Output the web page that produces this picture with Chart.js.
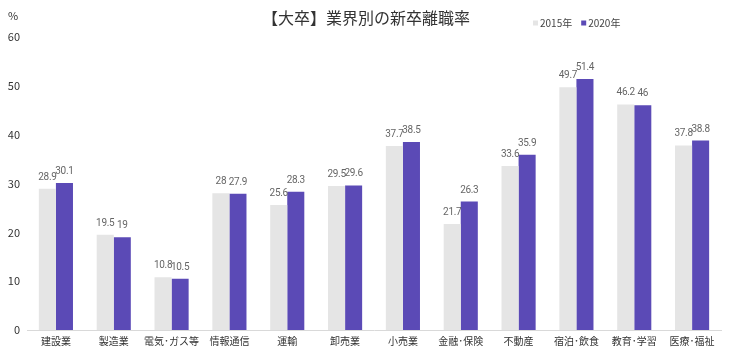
<!DOCTYPE html>
<html>
<head>
<meta charset="utf-8">
<script src="https://cdn.jsdelivr.net/npm/chart.js@4/dist/chart.umd.min.js"></script>
<style>
html,body{margin:0;padding:0;background:#fff;}
#wrap{width:730px;height:353px;position:relative;}
</style>
</head>
<body>
<div id="wrap"><canvas id="c" width="730" height="353"></canvas></div>
<script>
const categories = ["建設業","製造業","電気･ガス等","情報通信","運輸","卸売業","小売業","金融･保険","不動産","宿泊･飲食","教育･学習","医療･福祉"];
const series2015 = [28.9, 19.5, 10.8, 28, 25.6, 29.5, 37.7, 21.7, 33.6, 49.7, 46.2, 37.8];
const series2020 = [30.1, 19, 10.5, 27.9, 28.3, 29.6, 38.5, 26.3, 35.9, 51.4, 46, 38.8];
const seriesNames = ["2015年", "2020年"];
const titleText = "【大卒】業界別の新卒離職率";
const unitText = "%";

const FONT = "'Noto Sans CJK JP', 'Noto Sans', sans-serif";
const NUMFONT = "'Roboto', sans-serif";
const colors = ["#e5e5e5", "#5b4ab6"];

const overlay = {
  id: 'overlay',
  afterDatasetsDraw(chart) {
    const ctx = chart.ctx;
    ctx.save();
    ctx.fillStyle = '#666';
    ctx.font = "10px " + NUMFONT;
    try { ctx.letterSpacing = '-0.3px'; } catch (e) {}
    ctx.textAlign = 'center';
    ctx.textBaseline = 'alphabetic';
    chart.data.datasets.forEach((ds, i) => {
      const meta = chart.getDatasetMeta(i);
      meta.data.forEach((bar, j) => {
        ctx.fillText(String(ds.data[j]), bar.x, bar.y - 9);
      });
    });
    ctx.restore();
  },
  afterDraw(chart) {
    const ctx = chart.ctx;
    ctx.save();
    ctx.fillStyle = '#333';
    ctx.font = "16px " + FONT;
    ctx.textAlign = 'center';
    ctx.textBaseline = 'middle';
    ctx.fillText(titleText, 366, 18);
    ctx.font = "11px " + FONT;
    ctx.textAlign = 'left';
    ctx.fillStyle = '#333';
    ctx.fillText(unitText, 8, 16);
    // legend
    ctx.font = "10px " + FONT;
    let x = 533;
    const y = 23;
    seriesNames.forEach((n, i) => {
      ctx.fillStyle = colors[i];
      ctx.fillRect(x, y - 2.5, 5, 5);
      ctx.fillStyle = '#444';
      ctx.fillText(n, x + 7, y);
      x += 7 + ctx.measureText(n).width + 9;
    });
    ctx.restore();
  }
};

new Chart(document.getElementById('c'), {
  type: 'bar',
  data: {
    labels: categories,
    datasets: [
      { label: seriesNames[0], data: series2015, backgroundColor: colors[0] },
      { label: seriesNames[1], data: series2020, backgroundColor: colors[1] }
    ]
  },
  options: {
    responsive: false,
    animation: false,
    devicePixelRatio: 1,
    layout: { padding: { top: 37, right: 9, bottom: 0, left: 0 } },
    datasets: { bar: { categoryPercentage: 0.59, barPercentage: 1.0 } },
    plugins: { legend: { display: false }, title: { display: false }, tooltip: { enabled: false } },
    scales: {
      x: {
        grid: { display: false, drawTicks: false },
        border: { display: true, color: '#d9d9d9' },
        ticks: { color: '#333', font: { size: 10, family: FONT }, padding: 5, maxRotation: 0, autoSkip: false },
        afterFit(s) { s.height = 23; }
      },
      y: {
        min: 0, max: 60,
        grid: { display: false, drawTicks: false },
        border: { display: false },
        ticks: { stepSize: 10, color: '#333', font: { size: 11, family: FONT }, padding: 7 },
        afterFit(s) { s.width = 27; }
      }
    }
  },
  plugins: [overlay]
});
</script>
</body>
</html>
